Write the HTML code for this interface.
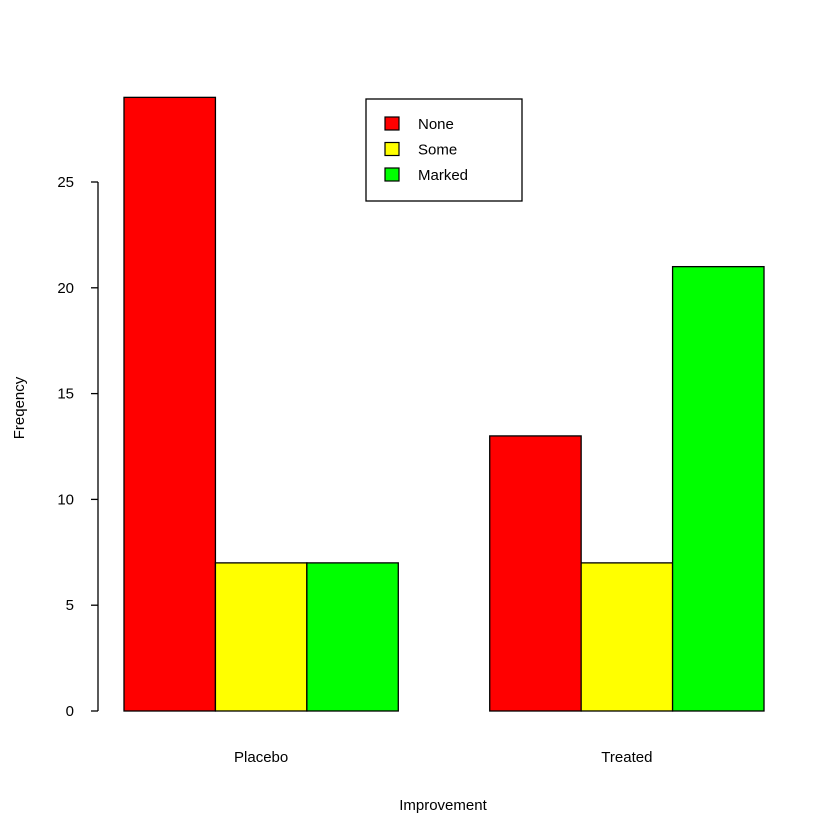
<!DOCTYPE html>
<html><head><meta charset="utf-8"><style>
html,body{margin:0;padding:0;background:#fff}
svg{display:block;font-family:"Liberation Sans",Arial,sans-serif}
</style></head><body>
<svg id="chart" width="840" height="840" viewBox="0 0 840 840">
<rect width="840" height="840" fill="#fff"/>
<g id="bars"></g>
<g id="yaxis"></g>
<g id="xlabels"></g>
<text x="443" y="810" font-size="15" text-anchor="middle">Improvement</text>
<text x="24" y="408" font-size="15" text-anchor="middle" transform="rotate(-90 24 408)">Freqency</text>
<g id="legend"></g>
</svg>
<script>
const categories = ["Placebo", "Treated"];
const seriesNames = ["None", "Some", "Marked"];
const seriesColors = ["#ff0000", "#ffff00", "#00ff00"];
const noneValues = [29, 13];
const someValues = [7, 7];
const markedValues = [7, 21];
const yTicks = [0, 5, 10, 15, 20, 25];

const series = [noneValues, someValues, markedValues];
const NS = "http://www.w3.org/2000/svg";
const y0 = 711, pxPerUnit = 21.16;
const yScale = v => y0 - v * pxPerUnit;
const x0 = 124, pxPerBar = 91.43;
const xUnit = u => x0 + (u - 1) * pxPerBar;
function mk(tag, attrs, parent){const e=document.createElementNS(NS,tag);for(const k in attrs)e.setAttribute(k,attrs[k]);parent.appendChild(e);return e;}

const bars = document.getElementById("bars");
categories.forEach((c, gi) => {
  const start = 1 + gi * (series.length + 1);
  series.forEach((vals, si) => {
    const u = start + si;
    const r = mk("rect", {x: xUnit(u), y: yScale(vals[gi]), width: pxPerBar, height: y0 - yScale(vals[gi]), fill: seriesColors[si], stroke: "#000", "stroke-width": 1.3}, bars);
    
    
  });
  const t = mk("text", {x: xUnit(start + series.length / 2), y: 762, "font-size": 15, "text-anchor": "middle"}, document.getElementById("xlabels"));
  t.textContent = c;
  
  
});

const ya = document.getElementById("yaxis");
mk("line", {x1: 98, x2: 98, y1: yScale(yTicks[yTicks.length-1]), y2: yScale(yTicks[0]), stroke: "#000", "stroke-width": 1.3}, ya);
yTicks.forEach(v => {
  mk("line", {x1: 91, x2: 98, y1: yScale(v), y2: yScale(v), stroke: "#000", "stroke-width": 1.3}, ya);
  const t = mk("text", {x: 74, y: yScale(v) + 5, "font-size": 15, "text-anchor": "end"}, ya);
  t.textContent = v;
  
  
});

const lg = document.getElementById("legend");
mk("rect", {x: 366, y: 99, width: 156, height: 102, fill: "#fff", stroke: "#000", "stroke-width": 1.3}, lg);
seriesNames.forEach((n, i) => {
  const y = 117 + i * 25.5;
  const s = mk("rect", {x: 385, y: y, width: 14, height: 13, fill: seriesColors[i], stroke: "#000", "stroke-width": 1.2}, lg);
  
  
  const t = mk("text", {x: 418, y: y + 12, "font-size": 15}, lg);
  t.textContent = n;
  
  
});
</script>
</body></html>
